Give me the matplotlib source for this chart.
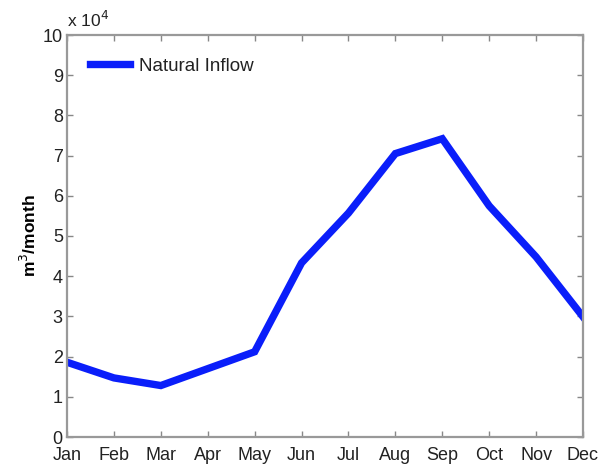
import matplotlib
matplotlib.use("Agg")
import matplotlib.pyplot as plt

months = ["Jan", "Feb", "Mar", "Apr", "May", "Jun", "Jul", "Aug", "Sep", "Oct", "Nov", "Dec"]
natural_inflow = [1.86, 1.47, 1.28, 1.70, 2.12, 4.33, 5.57, 7.05, 7.42, 5.75, 4.48, 2.99]  # x 10^4 m^3
y_ticks = [0, 1, 2, 3, 4, 5, 6, 7, 8, 9, 10]

plt.rcParams['font.family'] = ['Liberation Sans', 'DejaVu Sans']

fig = plt.figure(figsize=(6.02, 4.66), dpi=100)
ax = fig.add_axes([67 / 602, 1 - 437 / 466, (583 - 67) / 602, (437 - 35) / 466])

x = list(range(len(months)))
ax.plot(x, natural_inflow, color="#0a1efa", lw=5.3, solid_joinstyle="miter", label="Natural Inflow")

ax.set_xlim(0, len(months) - 1)
ax.set_ylim(0, 10)
ax.set_xticks(x)
ax.set_xticklabels(months)
ax.set_yticks(y_ticks)
ax.set_yticklabels([str(t) for t in y_ticks])

ax.tick_params(direction="in", length=4, width=1, color="#888888", labelsize=13,
               top=True, right=True, labelcolor="#222222")
ax.tick_params(axis="x", pad=7)
ax.tick_params(axis="y", pad=3)
for s in ax.spines.values():
    s.set_color("#999999")
    s.set_linewidth(1.6)

ax.text(0.0, 1.012, r"x 10$^4$", transform=ax.transAxes, fontsize=12.5,
        color="#222222", ha="left", va="bottom")
ax.set_ylabel(r"m$^3$/month", fontsize=12.5, fontweight="bold", labelpad=3)

leg = ax.legend(loc="upper left", frameon=False, fontsize=13.5, handlelength=2.15,
                bbox_to_anchor=(0.012, 0.985), handletextpad=0.45)
for t in leg.get_texts():
    t.set_color("#222222")

fig.savefig("out.png", dpi=100)
